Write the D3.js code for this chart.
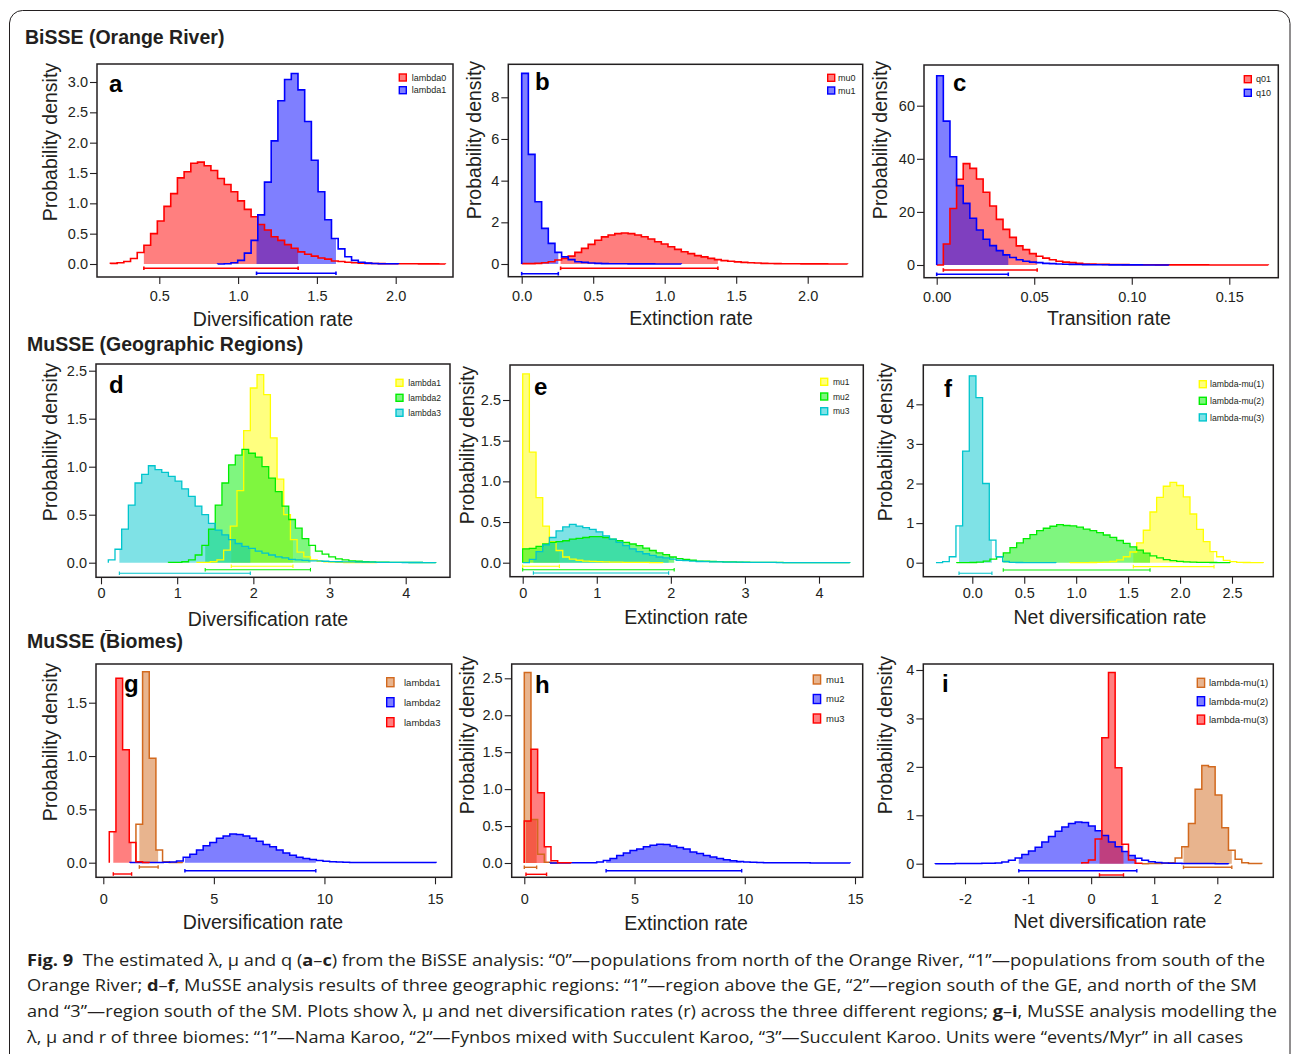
<!DOCTYPE html>
<html><head><meta charset="utf-8">
<script src="https://cdn.jsdelivr.net/npm/d3@7"></script>
<style>body{margin:0;background:#fff}</style>
</head><body>
<svg id="fig" width="1292" height="1054" xmlns="http://www.w3.org/2000/svg"></svg>
<script>
// ---------------- DATA (density per bin; [first bin start, bin width]; 95% HPD) ----------------
// Panel a: BiSSE lambda
const a_lambda0 = [0.01,0.02,0.04,0.09,0.19,0.31,0.50,0.71,0.95,1.16,1.42,1.52,1.66,1.68,1.62,1.54,1.41,1.31,1.19,1.04,0.90,0.78,0.65,0.56,0.45,0.39,0.32,0.26,0.20,0.16,0.13,0.10,0.08,0.05,0.04,0.03,0.02,0.015,0.01,0.008,0.006,0.005,0.004,0.004,0.003,0.003,0.002,0.002,0.002,0.001];
const a_lambda0_bins = [0.19, 0.0425];  const a_lambda0_hpd = [0.402, 1.381];
const a_lambda1 = [0.001,0.005,0.02,0.06,0.18,0.39,0.81,1.35,2.03,2.69,3.04,3.14,2.87,2.35,1.71,1.19,0.73,0.42,0.25,0.12,0.06,0.03,0.015,0.008,0.003,0.003,0.003];
const a_lambda1_bins = [0.87, 0.0425];  const a_lambda1_hpd = [1.117, 1.621];
// Panel b: BiSSE mu
const b_mu0 = [0.016,0.016,0.03,0.06,0.11,0.19,0.27,0.38,0.56,0.75,0.94,1.14,1.30,1.39,1.46,1.49,1.46,1.39,1.31,1.20,1.07,0.96,0.83,0.70,0.59,0.50,0.40,0.34,0.27,0.21,0.16,0.13,0.10,0.08,0.06,0.05,0.03,0.025,0.02,0.015,0.012,0.01,0.008,0.006,0.005,0.004,0.003,0.003,0.002];
const b_mu0_bins = [0, 0.0465];  const b_mu0_hpd = [0.272, 1.372];
const b_mu1 = [9.15,5.26,2.99,1.71,0.99,0.56,0.34,0.21,0.11,0.08,0.05,0.03,0.02,0.015,0.01,0.01,0.008,0.006,0.005,0.004,0.003,0.003,0.002,0.002];
const b_mu1_bins = [0, 0.0465];  const b_mu1_hpd = [0, 0.256];
// Panel c: BiSSE q
const c_q01 = [0,7.9,21.3,32.3,38.2,36.4,32.4,27.4,22.2,17.2,13.4,10.4,7.2,5.8,4.3,3.3,2.6,2.0,1.4,1.1,0.9,0.6,0.4,0.35,0.3,0.25,0.2,0.18,0.15,0.12,0.1,0.08,0.07,0.06,0.05,0.05,0.04,0.04,0.03,0.03,0.03,0.02,0.02,0.02,0.02,0.01,0.01,0.01,0.01,0.01];
const c_q01_bins = [0, 0.0034];  const c_q01_hpd = [0.0034, 0.0515];
const c_q10 = [71.3,54.2,40.8,29.9,23.2,17.6,13.2,9.7,7.3,5.4,3.8,2.8,2.0,1.4,1.1,0.9,0.6,0.5,0.4,0.3,0.25,0.2,0.15,0.12,0.1,0.08,0.06,0.05,0.04,0.03,0.03,0.02,0.02,0.01,0.01];
const c_q10_bins = [0, 0.0034];  const c_q10_hpd = [0, 0.0367];
// Panel d: MuSSE regions lambda
const d_lambda1 = [0.003,0.003,0.01,0.03,0.13,0.38,0.75,1.375,1.82,1.96,1.75,1.30,0.87,0.50,0.24,0.11,0.06,0.03,0.015,0.008,0.005,0.003,0.002,0.002,0.001,0.001,0.001];
const d_lambda1_bins = [1.259, 0.0877];  const d_lambda1_hpd = [1.71, 2.52];
const d_lambda2 = [0.003,0.003,0.01,0.03,0.08,0.18,0.35,0.60,0.83,1.02,1.12,1.18,1.14,1.10,1.00,0.88,0.74,0.59,0.45,0.36,0.25,0.18,0.12,0.09,0.06,0.04,0.03,0.02,0.015,0.01,0.008,0.006,0.005,0.004,0.003,0.003,0.002,0.002,0.001,0.001];
const d_lambda2_bins = [0.886, 0.0877];  const d_lambda2_hpd = [1.368, 2.75];
const d_lambda3 = [0.03,0.14,0.35,0.60,0.83,0.92,1.01,0.97,0.94,0.90,0.85,0.77,0.69,0.59,0.50,0.41,0.34,0.29,0.24,0.20,0.17,0.15,0.12,0.10,0.08,0.06,0.05,0.035,0.03,0.025,0.02,0.018,0.015,0.012,0.01,0.009,0.008,0.007,0.006,0.005,0.004,0.004,0.003,0.003,0.002,0.002,0.002,0.001,0.001];
const d_lambda3_bins = [0.096, 0.0877];  const d_lambda3_hpd = [0.241, 1.96];
// Panel e: MuSSE regions mu
const e_mu1 = [2.32,1.36,0.80,0.45,0.26,0.15,0.07,0.045,0.03,0.02,0.016,0.012,0.01,0.008,0.006,0.005,0.004,0.003,0.003,0.002,0.002];
const e_mu1_bins = [0, 0.0901];  const e_mu1_hpd = [0, 0.495];
const e_mu2 = [0.17,0.175,0.20,0.23,0.25,0.26,0.27,0.29,0.30,0.31,0.32,0.32,0.31,0.29,0.27,0.25,0.23,0.21,0.18,0.15,0.12,0.10,0.07,0.05,0.04,0.03,0.02,0.02,0.015,0.012,0.01,0.01,0.008,0.006,0.005,0.004,0.004,0.003,0.003,0.002,0.002,0.002,0.001,0.001,0.001,0.001,0.001,0.001,0.001];
const e_mu2_bins = [0, 0.0901];  const e_mu2_hpd = [0, 2.045];
const e_mu3 = [0.0,0.04,0.135,0.22,0.31,0.39,0.44,0.47,0.45,0.43,0.41,0.38,0.33,0.29,0.25,0.21,0.17,0.135,0.11,0.09,0.07,0.06,0.045,0.03,0.025,0.02,0.015,0.012,0.01,0.009,0.008,0.007,0.006,0.005,0.004,0.004,0.003,0.003,0.002,0.002,0.002,0.001,0.001,0.001,0.001,0.001,0.001,0.001,0.001];
const e_mu3_bins = [0, 0.0901];  const e_mu3_hpd = [0.144, 1.97];
// Panel f: MuSSE regions net diversification
const f_lm1 = [0.001,0.002,0.003,0.005,0.008,0.015,0.03,0.07,0.15,0.27,0.50,0.82,1.28,1.65,1.93,2.03,1.95,1.66,1.23,0.84,0.53,0.28,0.15,0.06,0.025,0.01,0.005,0.003,0.002];
const f_lm1_bins = [0.940, 0.0642];  const f_lm1_hpd = [1.55, 2.327];
const f_lm2 = [0.002,0.002,0.005,0.015,0.04,0.09,0.15,0.25,0.38,0.50,0.61,0.71,0.81,0.87,0.92,0.96,0.94,0.93,0.90,0.85,0.81,0.76,0.70,0.64,0.56,0.49,0.40,0.32,0.24,0.17,0.12,0.08,0.05,0.035,0.02,0.015,0.01,0.008,0.005,0.004,0.003];
const f_lm2_bins = [-0.151, 0.0642];  const f_lm2_hpd = [0.298, 1.711];
const f_lm3 = [0.0,0.025,0.15,0.93,2.82,4.72,4.17,2.0,0.57,0.15,0.03,0.01,0.005,0.003,0.002,0.002,0.001,0.001];
const f_lm3_bins = [-0.350, 0.0642];  const f_lm3_hpd = [-0.128, 0.189];
// Panel g: MuSSE biomes lambda
const g_lambda1 = [0.36,1.79,0.98,0.12,0.01,0.002,0.001];
const g_lambda1_bins = [1.476, 0.301];  const g_lambda1_hpd = [1.63, 2.48];
const g_lambda2 = [0.001,0.001,0.001,0.002,0.003,0.004,0.006,0.015,0.05,0.08,0.12,0.16,0.19,0.23,0.25,0.27,0.265,0.25,0.23,0.20,0.17,0.15,0.12,0.09,0.07,0.05,0.04,0.03,0.02,0.013,0.008,0.006,0.004,0.003,0.003,0.002,0.002,0.002,0.002,0.001,0.001,0.001,0.001,0.001,0.001,0.001];
const g_lambda2_bins = [1.205, 0.301];  const g_lambda2_hpd = [3.69, 9.61];
const g_lambda3 = [0.29,1.73,1.06,0.19,0.01,0.002];
const g_lambda3_bins = [0.271, 0.301];  const g_lambda3_hpd = [0.452, 1.28];
// Panel h: MuSSE biomes mu
const h_mu1 = [2.58,0.59,0.12,0.01,0.001];
const h_mu1_bins = [0, 0.3026];  const h_mu1_hpd = [0, 0.56];
const h_mu2 = [0.001,0.001,0.001,0.002,0.002,0.003,0.005,0.015,0.035,0.06,0.10,0.135,0.17,0.19,0.22,0.24,0.255,0.25,0.23,0.21,0.19,0.15,0.13,0.10,0.08,0.06,0.045,0.03,0.02,0.015,0.01,0.007,0.005,0.004,0.003,0.003,0.002,0.002,0.002,0.001,0.001,0.001,0.001,0.001,0.001];
const h_mu2_bins = [1.165, 0.3026];  const h_mu2_hpd = [3.71, 9.86];
const h_mu3 = [0.57,1.54,0.95,0.22,0.03,0.005,0.003];
const h_mu3_bins = [0, 0.3026];  const h_mu3_hpd = [0.076, 1.01];
// Panel i: MuSSE biomes net diversification
const i_lm1 = [0.001,0.002,0.003,0.01,0.02,0.12,0.35,0.83,1.54,2.03,2.0,1.42,0.74,0.28,0.09,0.02,0.005,0.002];
const i_lm1_bins = [0.803, 0.1057];  const i_lm1_hpd = [1.464, 2.23];
const i_lm2 = [0.001,0.001,0.001,0.002,0.002,0.003,0.005,0.007,0.01,0.015,0.035,0.07,0.12,0.19,0.26,0.34,0.45,0.56,0.67,0.76,0.83,0.86,0.85,0.78,0.68,0.58,0.45,0.35,0.25,0.17,0.11,0.07,0.04,0.025,0.015,0.01,0.007,0.005,0.004,0.003,0.002,0.002,0.001,0.001];
const i_lm2_bins = [-2.473, 0.1057];  const i_lm2_hpd = [-1.147, 0.724];
const i_lm3 = [0.02,0.075,0.51,2.60,3.95,1.98,0.40,0.075,0.01];
const i_lm3_bins = [-0.148, 0.1057];  const i_lm3_hpd = [0.132, 0.513];

// Tick values and labels
const a_xticks = [0.5,1.0,1.5,2.0];          const a_xlabels = ["0.5","1.0","1.5","2.0"];
const a_yticks = [0,0.5,1,1.5,2,2.5,3];       const a_ylabels = ["0.0","0.5","1.0","1.5","2.0","2.5","3.0"];
const b_xticks = [0,0.5,1,1.5,2];             const b_xlabels = ["0.0","0.5","1.0","1.5","2.0"];
const b_yticks = [0,2,4,6,8];                 const b_ylabels = ["0","2","4","6","8"];
const c_xticks = [0,0.05,0.10,0.15];          const c_xlabels = ["0.00","0.05","0.10","0.15"];
const c_yticks = [0,20,40,60];                const c_ylabels = ["0","20","40","60"];
const d_xticks = [0,1,2,3,4];                 const d_xlabels = ["0","1","2","3","4"];
const d_yticks = [0,0.5,1,1.5,2];             const d_ylabels = ["0.0","0.5","1.0","1.5","2.5"];
const e_xticks = [0,1,2,3,4];                 const e_xlabels = ["0","1","2","3","4"];
const e_yticks = [0,0.5,1,1.5,2];             const e_ylabels = ["0.0","0.5","1.0","1.5","2.5"];
const f_xticks = [0,0.5,1,1.5,2,2.5];         const f_xlabels = ["0.0","0.5","1.0","1.5","2.0","2.5"];
const f_yticks = [0,1,2,3,4];                 const f_ylabels = ["0","1","2","3","4"];
const g_xticks = [0,5,10,15];                 const g_xlabels = ["0","5","10","15"];
const g_yticks = [0,0.5,1,1.5];               const g_ylabels = ["0.0","0.5","1.0","1.5"];
const h_xticks = [0,5,10,15];                 const h_xlabels = ["0","5","10","15"];
const h_yticks = [0,0.5,1,1.5,2,2.5];         const h_ylabels = ["0.0","0.5","1.0","1.5","2.0","2.5"];
const i_xticks = [-2,-1,0,1,2];               const i_xlabels = ["-2","-1","0","1","2"];
const i_yticks = [0,1,2,3,4];                 const i_ylabels = ["0","1","2","3","4"];

const sectionTitles = ["BiSSE (Orange River)", "MuSSE (Geographic Regions)", "MuSSE (Biomes)"];
const captionLines = [
  [["Fig. 9",1],["  The estimated λ, μ and q (",0],["a",1],["–",0],["c",1],[") from the BiSSE analysis: “0”—populations from north of the Orange River, “1”—populations from south of the",0]],
  [["Orange River; ",0],["d",1],["–",0],["f",1],[", MuSSE analysis results of three geographic regions: “1”—region above the GE, “2”—region south of the GE, and north of the SM",0]],
  [["and “3”—region south of the SM. Plots show λ, μ and net diversification rates (r) across the three different regions; ",0],["g",1],["–",0],["i",1],[", MuSSE analysis modelling the",0]],
  [["λ, μ and r of three biomes: “1”—Nama Karoo, “2”—Fynbos mixed with Succulent Karoo, “3”—Succulent Karoo. Units were “events/Myr” in all cases",0]]
];

// ---------------- STYLE / LAYOUT ----------------
const COL = {red:"#ff0000", blue:"#0000ff", yellow:"#ffff00", green:"#00ee00", cyan:"#00c5cd", orange:"#d2691e"};
const FONT = "'Liberation Sans', Arial, Helvetica, sans-serif";
const INK = "#231f20";
const S = (name, dens, bins, hpd, color) => ({name, dens, start: bins[0], width: bins[1], hpd, color});

const panels = [
  {id:"a", box:[97,64,453,277], xr:[[0.5,159.3],[2.0,395.7]], yr:[[0,264],[3,82]],
   xt:a_xticks, xl:a_xlabels, yt:a_yticks, yl:a_ylabels, xlab:"Diversification rate", xlabPos:[273,326], ylabPos:[57,142],
   letter:"a", letterPos:[109,92], xLabBase:301, sw:1.6, ciOff:[4.3,9.3], ciW:1.6,
   leg:{x:399.3, y:74, dy:12.7, w:7, h:7, fs:9, tx:411.7},
   series:[S("lambda0",a_lambda0,a_lambda0_bins,a_lambda0_hpd,COL.red), S("lambda1",a_lambda1,a_lambda1_bins,a_lambda1_hpd,COL.blue)]},
  {id:"b", box:[508.3,64.3,862.7,276.7], xr:[[0,521.7],[2.0,807.7]], yr:[[0,264],[8,97.3]],
   xt:b_xticks, xl:b_xlabels, yt:b_yticks, yl:b_ylabels, xlab:"Extinction rate", xlabPos:[691,325], ylabPos:[481,140],
   letter:"b", letterPos:[535,90], xLabBase:301, sw:1.6, ciOff:[4.3,9.7], ciW:1.6,
   leg:{x:827.7, y:74.3, dy:12.7, w:7, h:7, fs:9, tx:838},
   series:[S("mu0",b_mu0,b_mu0_bins,b_mu0_hpd,COL.red), S("mu1",b_mu1,b_mu1_bins,b_mu1_hpd,COL.blue)]},
  {id:"c", box:[924,65,1278.3,277.7], xr:[[0,936.7],[0.15,1229.3]], yr:[[0,265],[60,105.7]],
   xt:c_xticks, xl:c_xlabels, yt:c_yticks, yl:c_ylabels, xlab:"Transition rate", xlabPos:[1109,325], ylabPos:[887,140],
   letter:"c", letterPos:[953,91], xLabBase:302, sw:1.6, ciOff:[5,9.3], ciW:1.6,
   leg:{x:1244.3, y:75.7, dy:13.6, w:7, h:7, fs:9, tx:1256},
   series:[S("q01",c_q01,c_q01_bins,c_q01_hpd,COL.red), S("q10",c_q10,c_q10_bins,c_q10_hpd,COL.blue)]},
  {id:"d", box:[96,364,450,577.3], xr:[[0,101],[4,405.7]], yr:[[0,562.7],[2,370.7]],
   xt:d_xticks, xl:d_xlabels, yt:d_yticks, yl:d_ylabels, xlab:"Diversification rate", xlabPos:[268,626], ylabPos:[57,442],
   letter:"d", letterPos:[109,393], xLabBase:598, sw:1.3, ciOff:[3.6,7,10.6], ciW:1.1,
   leg:{x:396, y:379.3, dy:15, w:7, h:7, fs:8.5, tx:408.3},
   series:[S("lambda1",d_lambda1,d_lambda1_bins,d_lambda1_hpd,COL.yellow), S("lambda2",d_lambda2,d_lambda2_bins,d_lambda2_hpd,COL.green), S("lambda3",d_lambda3,d_lambda3_bins,d_lambda3_hpd,COL.cyan)]},
  {id:"e", box:[510,365,863.3,576.7], xr:[[0,522.7],[4,819]], yr:[[0,562.7],[2,400]],
   xt:e_xticks, xl:e_xlabels, yt:e_yticks, yl:e_ylabels, xlab:"Extinction rate", xlabPos:[686,624], ylabPos:[474,445],
   letter:"e", letterPos:[534,395], xLabBase:598, sw:1.3, ciOff:[3.6,7,10.3], ciW:1.1,
   leg:{x:820.7, y:378.3, dy:14.7, w:7, h:7, fs:8.5, tx:833},
   series:[S("mu1",e_mu1,e_mu1_bins,e_mu1_hpd,COL.yellow), S("mu2",e_mu2,e_mu2_bins,e_mu2_hpd,COL.green), S("mu3",e_mu3,e_mu3_bins,e_mu3_hpd,COL.cyan)]},
  {id:"f", box:[923.3,365,1273.3,576.7], xr:[[0,972.3],[2.5,1232]], yr:[[0,562.7],[4,404.3]],
   xt:f_xticks, xl:f_xlabels, yt:f_yticks, yl:f_ylabels, xlab:"Net diversification rate", xlabPos:[1110,624], ylabPos:[892,442],
   letter:"f", letterPos:[944,397], xLabBase:598, sw:1.3, ciOff:[3.9,7.3,10.6], ciW:1.1,
   leg:{x:1199.3, y:380.7, dy:16.6, w:7, h:7, fs:8.7, tx:1210},
   series:[S("lambda-mu(1)",f_lm1,f_lm1_bins,f_lm1_hpd,COL.yellow), S("lambda-mu(2)",f_lm2,f_lm2_bins,f_lm2_hpd,COL.green), S("lambda-mu(3)",f_lm3,f_lm3_bins,f_lm3_hpd,COL.cyan)]},
  {id:"g", box:[96,664,451.7,877.3], xr:[[0,103.3],[15,435]], yr:[[0,862.7],[1.5,702.7]],
   xt:g_xticks, xl:g_xlabels, yt:g_yticks, yl:g_ylabels, xlab:"Diversification rate", xlabPos:[263,929], ylabPos:[57,742],
   letter:"g", letterPos:[124,692], xLabBase:904, sw:1.5, ciOff:[4.3,8,11.3], ciW:1.4,
   leg:{x:386.7, y:677.7, dy:20, w:7.3, h:9, fs:9.5, tx:404},
   series:[S("lambda1",g_lambda1,g_lambda1_bins,g_lambda1_hpd,COL.orange), S("lambda2",g_lambda2,g_lambda2_bins,g_lambda2_hpd,COL.blue), S("lambda3",g_lambda3,g_lambda3_bins,g_lambda3_hpd,COL.red)]},
  {id:"h", box:[511.7,664,862.7,877.3], xr:[[0,524.3],[15,855]], yr:[[0,863],[2.5,678.3]],
   xt:h_xticks, xl:h_xlabels, yt:h_yticks, yl:h_ylabels, xlab:"Extinction rate", xlabPos:[686,930], ylabPos:[474,735],
   letter:"h", letterPos:[535,693], xLabBase:904, sw:1.5, ciOff:[4.3,7.7,11.3], ciW:1.4,
   leg:{x:813.3, y:675, dy:19.5, w:7.3, h:9, fs:9.5, tx:826},
   series:[S("mu1",h_mu1,h_mu1_bins,h_mu1_hpd,COL.orange), S("mu2",h_mu2,h_mu2_bins,h_mu2_hpd,COL.blue), S("mu3",h_mu3,h_mu3_bins,h_mu3_hpd,COL.red)]},
  {id:"i", box:[923.3,664,1273.3,877.3], xr:[[-2,965],[2,1217.3]], yr:[[0,863.7],[4,670]],
   xt:i_xticks, xl:i_xlabels, yt:i_yticks, yl:i_ylabels, xlab:"Net diversification rate", xlabPos:[1110,928], ylabPos:[892,735],
   letter:"i", letterPos:[942,692], xLabBase:904, sw:1.5, ciOff:[3.6,7,11.3], ciW:1.4,
   leg:{x:1197.3, y:678.3, dy:18.4, w:7.3, h:9, fs:9.5, tx:1209},
   series:[S("lambda-mu(1)",i_lm1,i_lm1_bins,i_lm1_hpd,COL.orange), S("lambda-mu(2)",i_lm2,i_lm2_bins,i_lm2_hpd,COL.blue), S("lambda-mu(3)",i_lm3,i_lm3_bins,i_lm3_hpd,COL.red)]}
];
const sectionPos = [[25,44],[27,351],[27,648]];

// ---------------- DRAW ----------------
const svg = d3.select("#fig");
const defs = svg.append("defs");
svg.append("rect").attr("width",1292).attr("height",1054).attr("fill","#fff");

// outer frame
svg.append("path").attr("d","M9.5,1054 V23 A13,13 0 0 1 22.5,10.5 H1277 A13,13 0 0 1 1290,23.5 V1054")
  .attr("fill","none").attr("stroke",INK).attr("stroke-width",1);

sectionTitles.forEach((t,k)=>{
  svg.append("text").attr("x",sectionPos[k][0]).attr("y",sectionPos[k][1]).text(t)
    .attr("font-family",FONT).attr("font-weight","bold").attr("font-size",19.5).attr("fill",INK);
});
// small stray mark above "Biomes" in the original
svg.append("line").attr("x1",105).attr("x2",111).attr("y1",630.5).attr("y2",630.5).attr("stroke",INK).attr("stroke-width",1);

function stepPath(s, x, y, close) {
  let d = `M${x(s.start)},${y(0)}`;
  s.dens.forEach((v,i)=>{ d += `V${y(v)}H${x(s.start + (i+1)*s.width)}`; });
  d += `V${y(0)}`;
  if (close) d += "Z";
  return d;
}

panels.forEach(p=>{
  const x = d3.scaleLinear().domain([p.xr[0][0],p.xr[1][0]]).range([p.xr[0][1],p.xr[1][1]]);
  const y = d3.scaleLinear().domain([p.yr[0][0],p.yr[1][0]]).range([p.yr[0][1],p.yr[1][1]]);
  const [bx0,by0,bx1,by1] = p.box;
  const g = svg.append("g").attr("class","panel-"+p.id);

  // filled HPD regions
  p.series.forEach((s,k)=>{
    const cid = `clip-${p.id}-${k}`;
    defs.append("clipPath").attr("id",cid).append("rect")
      .attr("x",x(s.hpd[0])).attr("width",Math.max(0,x(s.hpd[1])-x(s.hpd[0])))
      .attr("y",by0).attr("height",by1-by0);
    g.append("path").attr("d",stepPath(s,x,y,true)).attr("fill",s.color).attr("fill-opacity",0.5)
      .attr("stroke","none").attr("clip-path",`url(#${cid})`);
  });
  // outlines
  p.series.forEach(s=>{
    g.append("path").attr("d",stepPath(s,x,y,false)).attr("fill","none").attr("stroke",s.color)
      .attr("stroke-width",p.sw).attr("stroke-linejoin","miter");
  });
  // HPD bars
  p.series.forEach((s,k)=>{
    const yy = y(0) + p.ciOff[k];
    const x0 = x(s.hpd[0]), x1 = x(s.hpd[1]);
    g.append("line").attr("x1",x0).attr("x2",x1).attr("y1",yy).attr("y2",yy).attr("stroke",s.color).attr("stroke-width",p.ciW);
    [x0,x1].forEach(xx=> g.append("line").attr("x1",xx).attr("x2",xx).attr("y1",yy-1.8).attr("y2",yy+1.8).attr("stroke",s.color).attr("stroke-width",p.ciW));
  });

  // box
  g.append("rect").attr("x",bx0).attr("y",by0).attr("width",bx1-bx0).attr("height",by1-by0)
    .attr("fill","none").attr("stroke",INK).attr("stroke-width",1.5);

  // axes
  const fs = 14.5;
  const yAxis = d3.axisLeft(y).tickValues(p.yt).tickFormat((d,i)=>p.yl[i]).tickSize(7).tickPadding(2);
  const ya = g.append("g").attr("transform",`translate(${bx0},0)`).call(yAxis);
  const xpad = p.xLabBase - by1 - 7 - 0.71*fs;
  const xAxis = d3.axisBottom(x).tickValues(p.xt).tickFormat((d,i)=>p.xl[i]).tickSize(7).tickPadding(xpad);
  const xa = g.append("g").attr("transform",`translate(0,${by1})`).call(xAxis);
  [ya,xa].forEach(a=>{
    a.select(".domain").remove();
    a.selectAll("text").attr("font-family",FONT).attr("font-size",fs).attr("fill",INK);
    a.selectAll("line").attr("stroke",INK).attr("stroke-width",1.1);
  });

  // titles
  g.append("text").attr("x",p.xlabPos[0]).attr("y",p.xlabPos[1]).attr("text-anchor","middle")
    .attr("font-family",FONT).attr("font-size",19.5).attr("fill",INK).text(p.xlab);
  g.append("text").attr("transform",`translate(${p.ylabPos[0]},${p.ylabPos[1]}) rotate(-90)`).attr("text-anchor","middle")
    .attr("font-family",FONT).attr("font-size",19.5).attr("fill",INK).text("Probability density");
  g.append("text").attr("x",p.letterPos[0]).attr("y",p.letterPos[1]).attr("font-family",FONT)
    .attr("font-weight","bold").attr("font-size",24).attr("fill","#000").text(p.letter);

  // legend
  p.series.forEach((s,k)=>{
    const ly = p.leg.y + k*p.leg.dy;
    g.append("rect").attr("x",p.leg.x).attr("y",ly).attr("width",p.leg.w).attr("height",p.leg.h)
      .attr("fill",s.color).attr("fill-opacity",0.5).attr("stroke",s.color).attr("stroke-width",1.4);
    g.append("text").attr("x",p.leg.tx).attr("y",ly + p.leg.h/2 + p.leg.fs*0.36)
      .attr("font-family",FONT).attr("font-size",p.leg.fs).attr("fill",INK).text(s.name);
  });
});

// caption
const capY = [966,991,1017,1043];
const capW = [1238,1230,1250,1216];
captionLines.forEach((parts,k)=>{
  const t = svg.append("text").attr("x",27).attr("y",capY[k]).attr("font-family","'Open Sans','Noto Sans',sans-serif")
    .attr("font-size",16.5).attr("fill",INK).attr("textLength",capW[k]).attr("lengthAdjust","spacingAndGlyphs")
    .attr("xml:space","preserve");
  parts.forEach(([txt,b])=>{
    t.append("tspan").attr("font-weight", b ? "bold" : "normal").text(txt);
  });
});
</script>
</body></html>
